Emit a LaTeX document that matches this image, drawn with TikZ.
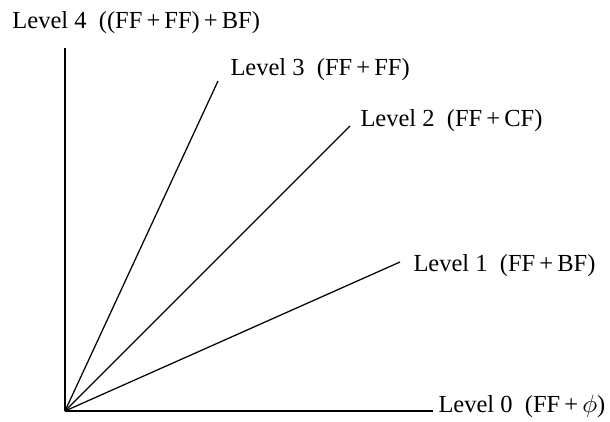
\documentclass[tikz,border=0pt]{standalone}
\usepackage{fontspec}
\setmainfont{Liberation Serif}
\usepackage{tikz}
\usetikzlibrary{positioning}

\begin{document}
\begin{tikzpicture}[
    x=0.4pt, y=-0.4pt,
    lbl/.style={anchor=base west, inner sep=0pt, font=\fontsize{9.8}{12}\selectfont},
    ray/.style={line width=0.5pt}
]
\useasboundingbox (0,0) rectangle (610,421);

% axes and rays meet here
\coordinate (origin) at (65,411);
\coordinate (top) at (65,48);
\coordinate (end0) at (433,411);
\coordinate (end1) at (400,262);
\coordinate (end2) at (350,126);
\coordinate (end3) at (218,81);

\node[lbl] (lvl4) at (12,28) {Level\ 4\ \ ((FF\,+\,FF)\,+\,BF)};
\node[lbl] (lvl3) at (230,75) {Level\ 3\ \ (FF\,+\,FF)};
\node[lbl] (lvl2) at (360,126) {Level\ 2\ \ (FF\,+\,CF)};
\node[lbl] (lvl1) at (413,271) {Level\ 1\ \ (FF\,+\,BF)};
\node[lbl] (lvl0) at (438,412) {Level\ 0\ \ (FF\,+\,$\phi$)};

\draw[ray] (origin) -- (top);
\draw[ray] (origin) -- (end0);
\draw[ray] (origin) -- (end1);
\draw[ray] (origin) -- (end2);
\draw[ray] (origin) -- (end3);
\end{tikzpicture}
\end{document}
